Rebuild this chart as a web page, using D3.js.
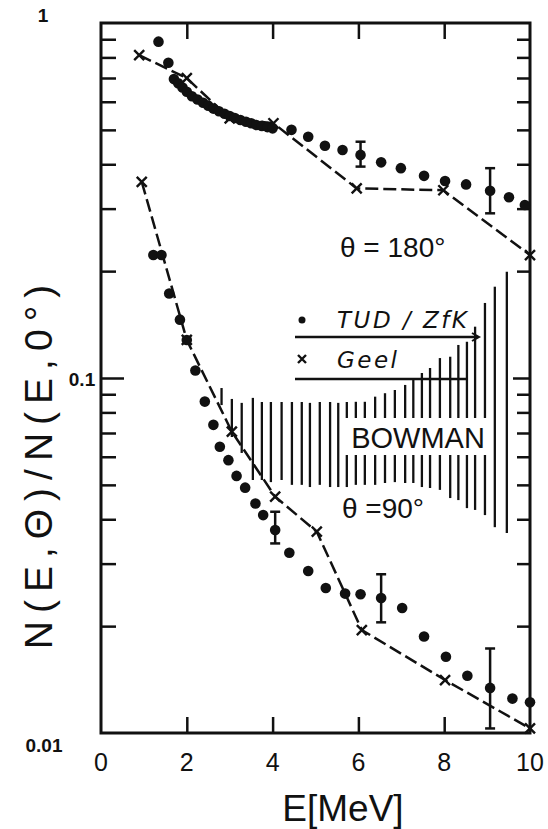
<!DOCTYPE html>
<html><head><meta charset="utf-8">
<script src="https://cdn.jsdelivr.net/npm/d3@7"></script>
<style>html,body{margin:0;padding:0;background:#fff;} svg{display:block}</style>
</head><body>
<svg id="c" width="548" height="829"></svg>
<script>
// ---- data ----
const xTickValues = [0, 2, 4, 6, 8, 10];
const xTickLabels = ["0", "2", "4", "6", "8", "10"];
const yLabelValues = [1, 0.1, 0.01];
const yLabelTexts = ["1", "0.1", "0.01"];
const yMinorValues = [0.02,0.03,0.04,0.05,0.06,0.07,0.08,0.09,0.2,0.3,0.4,0.5,0.6,0.7,0.8,0.9];

// TUD/ZfK, theta = 180 deg
const tud180E = [1.34,1.57,1.70,1.80,1.90,2.00,2.12,2.25,2.38,2.50,2.62,2.75,2.88,3.00,3.12,3.25,3.38,3.50,3.62,3.75,3.88,4.00,4.44,4.83,5.22,5.63,6.05,6.53,6.99,7.53,8.02,8.51,9.07,9.51,9.88];
const tud180V = [0.886,0.773,0.695,0.676,0.658,0.640,0.622,0.609,0.596,0.585,0.574,0.564,0.555,0.547,0.540,0.533,0.527,0.522,0.516,0.513,0.509,0.505,0.500,0.478,0.451,0.439,0.425,0.405,0.390,0.371,0.359,0.351,0.337,0.323,0.307];
// Geel, theta = 180 deg
const geel180E = [0.89, 2.0, 3.0, 4.02, 5.96, 7.98, 10.0];
const geel180V = [0.812, 0.699, 0.539, 0.522, 0.342, 0.338, 0.222];
// TUD/ZfK, theta = 90 deg
const tud90E = [1.22,1.41,1.59,1.84,2.00,2.20,2.42,2.62,2.77,2.97,3.16,3.36,3.60,3.78,4.06,4.39,4.83,5.24,5.69,6.05,6.53,7.02,7.53,8.04,8.54,9.07,9.59,10.0];
const tud90V = [0.222,0.222,0.173,0.146,0.128,0.105,0.0858,0.0738,0.064,0.0587,0.053,0.0491,0.0443,0.0411,0.0373,0.0322,0.0286,0.0256,0.0247,0.0246,0.024,0.0225,0.0187,0.0164,0.0145,0.0134,0.0125,0.0122];
// Geel, theta = 90 deg
const geel90E = [0.95, 2.0, 3.05, 4.06, 5.03, 6.08, 8.02, 10.0];
const geel90V = [0.357, 0.128, 0.0706, 0.0463, 0.0369, 0.0195, 0.0141, 0.0103];
// error bars
const errE  = [6.05, 9.07, 4.06, 6.53, 9.07];
const errLo = [0.394, 0.291, 0.0342, 0.0205, 0.0103];
const errHi = [0.463, 0.390, 0.042, 0.028, 0.0173];
// BOWMAN band (vertical hatching)
const bowE  = [2.81,3.05,3.28,3.54,3.75,3.96,4.21,4.45,4.68,4.87,5.10,5.34,5.53,5.73,5.94,6.15,6.39,6.62,6.85,7.09,7.28,7.48,7.67,7.90,8.14,8.33,8.53,8.72,8.95,9.18,9.46];
const bowHi = [0.0937,0.0873,0.0851,0.0879,0.0856,0.0856,0.0856,0.0856,0.0856,0.0851,0.0856,0.0856,0.0851,0.0856,0.0857,0.0857,0.0886,0.0906,0.0925,0.0956,0.0987,0.1033,0.1067,0.1138,0.1148,0.1239,0.1265,0.1395,0.1627,0.1808,0.1992];
const bowLo = [0.0839,0.0682,0.0615,0.0516,0.0516,0.0509,0.0516,0.0500,0.0500,0.0493,0.0500,0.0493,0.0493,0.0493,0.0500,0.0500,0.0500,0.0506,0.0509,0.0506,0.0506,0.0493,0.0490,0.0484,0.0459,0.0453,0.0430,0.0425,0.0411,0.0380,0.0366];

// ---- chart ----
const svg = d3.select("#c");
const L = 101, R = 530, T = 23, B = 733;
const x = d3.scaleLinear().domain([0, 10]).range([L, R]);
const y = d3.scaleLog().domain([0.01, 1]).range([B, T]);
const ink = "#111";

// Bowman hatching
const bow = bowE.map((e, i) => ({e, hi: bowHi[i], lo: bowLo[i]}));
svg.append("g").selectAll("line").data(bow).join("line")
  .attr("x1", d => x(d.e)).attr("x2", d => x(d.e))
  .attr("y1", d => y(d.hi)).attr("y2", d => y(d.lo))
  .attr("stroke", ink).attr("stroke-width", 2.3);

// white gap behind BOWMAN text
svg.append("rect").attr("x", 345).attr("y", 418).attr("width", 147).attr("height", 37).attr("fill", "#fff");
svg.append("text").attr("x", 418).attr("y", 448).attr("text-anchor", "middle")
  .attr("font-family", "Liberation Sans, Arial, sans-serif").attr("font-size", 29)
  .attr("fill", ink).text("BOWMAN");

// axes ticks
function styleAxis(g) {
  g.select(".domain").remove();
  g.selectAll(".tick line").attr("stroke", ink).attr("stroke-width", 2.5);
  g.selectAll(".tick text").remove();
}
svg.append("g").attr("transform", `translate(0,${B})`)
  .call(d3.axisBottom(x).tickValues([2,4,6,8]).tickSize(-16).tickFormat("")).call(styleAxis);
svg.append("g").attr("transform", `translate(0,${T})`)
  .call(d3.axisTop(x).tickValues([2,4,6,8]).tickSize(-16).tickFormat("")).call(styleAxis);
svg.append("g").attr("transform", `translate(${L},0)`)
  .call(d3.axisLeft(y).tickValues(yMinorValues).tickSize(-15).tickFormat("")).call(styleAxis);
svg.append("g").attr("transform", `translate(${L},0)`)
  .call(d3.axisLeft(y).tickValues([0.1]).tickSize(-23).tickFormat("")).call(styleAxis);
svg.append("g").attr("transform", `translate(${R},0)`)
  .call(d3.axisRight(y).tickValues(yMinorValues).tickSize(-13).tickFormat("")).call(styleAxis);
svg.append("g").attr("transform", `translate(${R},0)`)
  .call(d3.axisRight(y).tickValues([0.1]).tickSize(-17).tickFormat("")).call(styleAxis);

// frame
svg.append("rect").attr("x", L).attr("y", T).attr("width", R - L).attr("height", B - T)
  .attr("fill", "none").attr("stroke", ink).attr("stroke-width", 3);

// x tick labels
svg.append("g").selectAll("text").data(xTickValues).join("text")
  .attr("x", d => x(d)).attr("y", 771).attr("text-anchor", "middle")
  .attr("font-family", "Liberation Sans Narrow, Liberation Sans, Arial, sans-serif")
  .attr("font-size", 25).attr("fill", ink)
  .text((d, i) => xTickLabels[i]);

// y tick labels
const yLabPos = [[43, 22], [82, 386], [44, 752]];
svg.append("g").selectAll("text").data(yLabelValues).join("text")
  .attr("x", (d, i) => yLabPos[i][0]).attr("y", (d, i) => yLabPos[i][1])
  .attr("text-anchor", "middle")
  .attr("font-family", "Liberation Sans Narrow, Liberation Sans, Arial, sans-serif")
  .attr("font-weight", "bold").attr("font-size", 19).attr("fill", ink)
  .text((d, i) => yLabelTexts[i]);

// axis titles
svg.append("text").attr("x", 343).attr("y", 821).attr("text-anchor", "middle")
  .attr("font-family", "Liberation Sans, Arial, sans-serif").attr("font-size", 37)
  .attr("fill", ink).text("E[MeV]");
svg.append("text").attr("transform", "translate(52,463) rotate(-90)").attr("text-anchor", "middle")
  .attr("font-family", "Liberation Sans, Arial, sans-serif").attr("font-size", 39)
  .attr("letter-spacing", 8)
  .attr("fill", ink).text("N(E,Θ)/N(E,0°)");

// dashed Geel lines
const line = d3.line().x(d => x(d[0])).y(d => y(d[1]));
[[geel180E, geel180V], [geel90E, geel90V]].forEach(([E, V]) => {
  const pts = E.map((e, i) => [e, V[i]]);
  svg.append("path").attr("d", line(pts)).attr("fill", "none")
    .attr("stroke", ink).attr("stroke-width", 2.5).attr("stroke-dasharray", "13,5");
  svg.append("g").selectAll("path").data(pts).join("path")
    .attr("transform", d => `translate(${x(d[0])},${y(d[1])})`)
    .attr("d", "M-5,-5L5,5M-5,5L5,-5").attr("stroke", ink).attr("stroke-width", 2.4);
});

// error bars
const errs = errE.map((e, i) => ({e, lo: errLo[i], hi: errHi[i]}));
const eg = svg.append("g").attr("stroke", ink).attr("stroke-width", 2.5);
eg.selectAll(".v").data(errs).join("line").attr("class", "v")
  .attr("x1", d => x(d.e)).attr("x2", d => x(d.e)).attr("y1", d => y(d.hi)).attr("y2", d => y(d.lo));
eg.selectAll(".h").data(errs).join("line").attr("class", "h")
  .attr("x1", d => x(d.e) - 5).attr("x2", d => x(d.e) + 5).attr("y1", d => y(d.hi)).attr("y2", d => y(d.hi));
eg.selectAll(".l").data(errs).join("line").attr("class", "l")
  .attr("x1", d => x(d.e) - 5).attr("x2", d => x(d.e) + 5).attr("y1", d => y(d.lo)).attr("y2", d => y(d.lo));

// TUD dots
[[tud180E, tud180V], [tud90E, tud90V]].forEach(([E, V]) => {
  svg.append("g").selectAll("circle").data(E.map((e, i) => [e, V[i]])).join("circle")
    .attr("cx", d => x(d[0])).attr("cy", d => y(d[1])).attr("r", 5.3).attr("fill", ink);
});

// theta labels
svg.append("text").attr("x", 340).attr("y", 257)
  .attr("font-family", "Liberation Sans, Arial, sans-serif").attr("font-size", 28)
  .attr("fill", ink).text("θ = 180°");
svg.append("text").attr("x", 342).attr("y", 518)
  .attr("font-family", "Liberation Sans, Arial, sans-serif").attr("font-size", 28)
  .attr("fill", ink).text("θ =90°");

// legend
svg.append("circle").attr("cx", 302).attr("cy", 320).attr("r", 3.5).attr("fill", ink);
svg.append("text").attr("x", 337).attr("y", 328)
  .attr("font-family", "DejaVu Sans, sans-serif").attr("font-style", "italic").attr("font-size", 23)
  .attr("letter-spacing", 2.5).attr("fill", ink).text("TUD / ZfK");
svg.append("line").attr("x1", 295).attr("x2", 478).attr("y1", 337).attr("y2", 337)
  .attr("stroke", ink).attr("stroke-width", 2.5);
svg.append("path").attr("d", "M472,333L479,337L472,341").attr("fill", "none").attr("stroke", ink).attr("stroke-width", 2);
svg.append("path").attr("transform", "translate(302,359)")
  .attr("d", "M-4,-4L4,4M-4,4L4,-4").attr("stroke", ink).attr("stroke-width", 2.4);
svg.append("text").attr("x", 337).attr("y", 368)
  .attr("font-family", "DejaVu Sans, sans-serif").attr("font-style", "italic").attr("font-size", 23)
  .attr("letter-spacing", 2.5).attr("fill", ink).text("Geel");
svg.append("line").attr("x1", 295).attr("x2", 467).attr("y1", 379).attr("y2", 379)
  .attr("stroke", ink).attr("stroke-width", 2.5);
</script>
</body></html>
